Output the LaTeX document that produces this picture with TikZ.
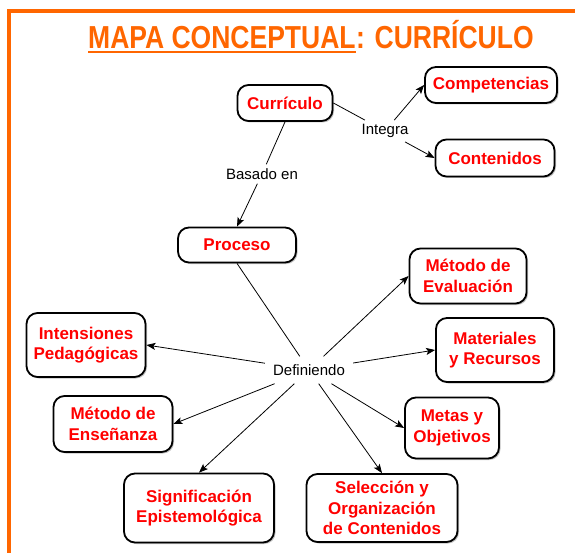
\documentclass[tikz,border=0pt]{standalone}
\usepackage{fontspec}
\setmainfont{Liberation Sans}
\usetikzlibrary{positioning, arrows.meta, shadows}
\definecolor{naranja}{HTML}{FF6600}
\definecolor{rojo}{HTML}{FF0000}
\definecolor{sombra}{HTML}{A8A8A8}

\tikzset{
  concepto/.style={draw=black, line width=1.8pt, rounded corners=11pt, fill=white,
    font=\fontsize{17}{20.5}\selectfont\bfseries, text=rojo, align=center, inner sep=0pt,
    drop shadow={shadow xshift=1.5pt, shadow yshift=-1.5pt, fill=sombra, opacity=0.7}},
  enlace/.style={font=\fontsize{15}{18}\selectfont, inner sep=4pt},
  linea/.style={line width=0.8pt},
  flecha/.style={line width=0.8pt, -{Stealth[length=9pt, width=7pt, inset=2pt]}},
  titulo/.style={font=\fontsize{26.5}{30}\selectfont\bfseries, text=naranja, inner sep=0pt, anchor=base west},
}

\begin{document}
\begin{tikzpicture}[x=1pt, y=-1pt]
  \clip (0,0) rectangle (575,553);
  % marco naranja
  \draw[naranja, line width=4pt] (9,11) rectangle (620,620);
  % titulo
  \node[titulo] (tituloA) at (88,49) {\scalebox{1}[1.2]{MAPA CONCEPTUAL}};
  \node[titulo] (tituloB) at (tituloA.base east) {\scalebox{1}[1.2]{: CURRÍCULO}};
  \draw[naranja, line width=2pt] ([yshift=-3.5pt]tituloA.base west) -- ([yshift=-3.5pt]tituloA.base east);
  % conceptos
  \node[concepto, minimum width=95pt, minimum height=36pt] (curriculo) at (285,103) {Currículo};
  \node[concepto, minimum width=132pt, minimum height=36pt] (competencias) at (491,85) {Competencias};
  \node[concepto, minimum width=119pt, minimum height=37pt] (contenidos) at (495,158) {Contenidos};
  \node[concepto, minimum width=118pt, minimum height=35pt] (proceso) at (237,245) {Proceso};
  \node[concepto, minimum width=117pt, minimum height=55pt] (evaluacion) at (468,276) {Método de\\Evaluación};
  \node[concepto, minimum width=118pt, minimum height=64pt] (materiales) at (495,350) {Materiales\\y Recursos};
  \node[concepto, minimum width=94pt, minimum height=61pt] (metas) at (452,428) {Metas y\\Objetivos};
  \node[concepto, minimum width=151pt, minimum height=68pt] (seleccion) at (382,508) {Selección y\\Organización\\de Contenidos};
  \node[concepto, minimum width=119pt, minimum height=64pt] (intensiones) at (86,345) {Intensiones\\Pedagógicas};
  \node[concepto, minimum width=119pt, minimum height=56pt] (ensenanza) at (113,424) {Método de\\Enseñanza};
  \node[concepto, minimum width=150pt, minimum height=69pt] (significacion) at (199,508) {Significación\\Epistemológica};
  % palabras de enlace
  \node[enlace] (basado) at (262,174) {Basado en};
  \node[enlace] (integra) at (385,131) {Integra};
  \node[enlace, inner xsep=8pt, inner ysep=8pt] (definiendo) at (309,370) {Definiendo};
  % conectores
  \draw[linea] (curriculo.south) -- (basado);
  \draw[flecha] (basado) -- (proceso.north);
  \draw[linea] (curriculo.east) -- (integra);
  \draw[flecha] (integra) -- (competencias.west);
  \draw[flecha] (integra) -- (contenidos.west);
  \draw[linea] (proceso.south) -- (definiendo);
  \foreach \destino/\ancla in {evaluacion/west, materiales/west, metas/west, seleccion/north,
                               significacion/north, ensenanza/east, intensiones/east}
    \draw[flecha] (definiendo) -- (\destino.\ancla);
\end{tikzpicture}
\end{document}
